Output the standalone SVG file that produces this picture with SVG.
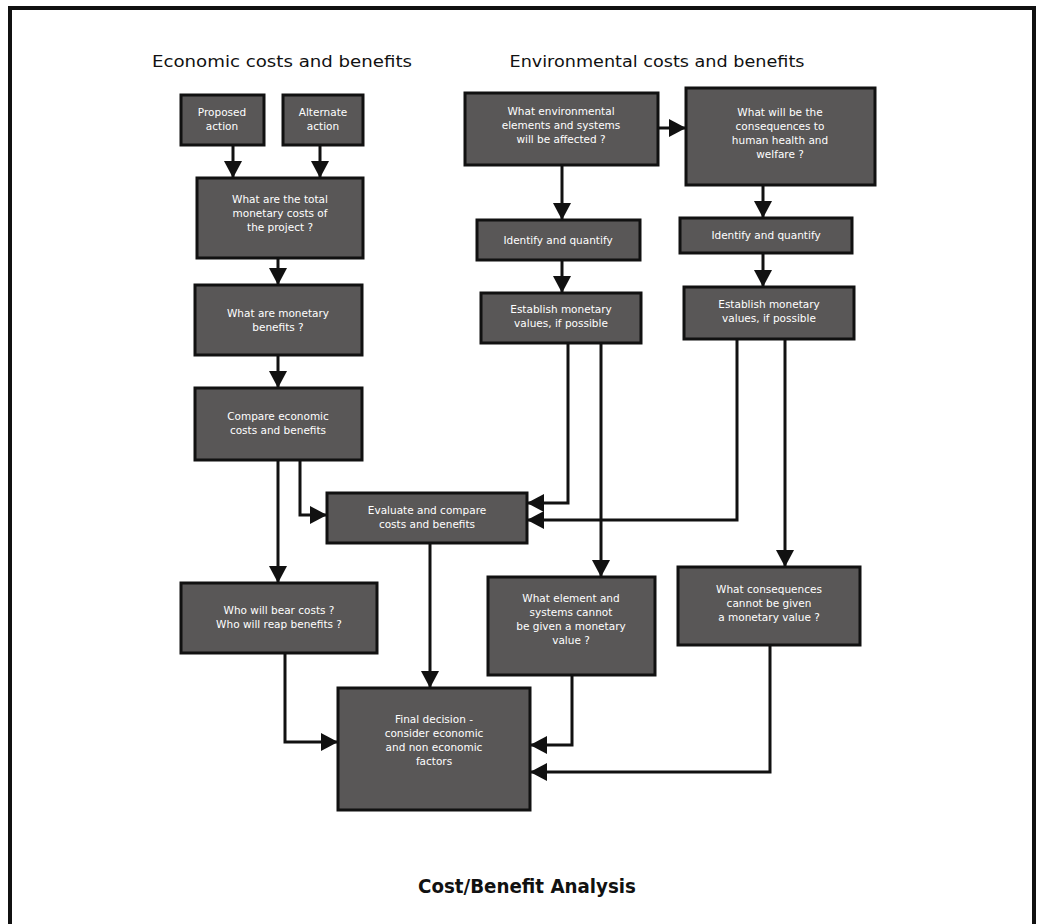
<svg xmlns="http://www.w3.org/2000/svg" width="1042" height="924" viewBox="0 0 1042 924">
<style>
.box{fill:#595757;stroke:#111;stroke-width:3}
.t{fill:#fff;font-family:"DejaVu Sans","Liberation Sans",sans-serif;font-size:10.5px;text-anchor:middle}
.h{fill:#111;font-family:"DejaVu Sans","Liberation Sans",sans-serif;font-size:16px;text-anchor:middle}
.c{fill:none;stroke:#111;stroke-width:3;marker-end:url(#ah)}
</style>
<defs>
<marker id="ah" markerUnits="userSpaceOnUse" markerWidth="20" markerHeight="20" refX="17" refY="9" orient="auto">
<path d="M0,0 L17,9 L0,18 z" fill="#111"/>
</marker>
</defs>
<rect x="0" y="0" width="1042" height="924" fill="#fff"/>
<rect x="10" y="8" width="1024" height="1000" fill="#fff" stroke="#111" stroke-width="4"/>
<text class="h" x="282" y="67" textLength="260" lengthAdjust="spacingAndGlyphs">Economic costs and benefits</text>
<text class="h" x="657" y="67" textLength="295" lengthAdjust="spacingAndGlyphs">Environmental costs and benefits</text>

<g id="connectors">
<path class="c" d="M233,145 V178"/>
<path class="c" d="M320,145 V178"/>
<path class="c" d="M278,258 V285"/>
<path class="c" d="M278,355 V388"/>
<path class="c" d="M278,460 V583"/>
<path class="c" d="M300,460 V515 H327"/>
<path class="c" d="M430,543 V688"/>
<path class="c" d="M285,653 V742 H338"/>
<path class="c" d="M658,128 H686"/>
<path class="c" d="M562,165 V220"/>
<path class="c" d="M562,260 V293"/>
<path class="c" d="M763,185 V218"/>
<path class="c" d="M763,253 V287"/>
<path class="c" d="M568,343 V503 H527"/>
<path class="c" d="M601,343 V577"/>
<path class="c" d="M737,339 V520 H527"/>
<path class="c" d="M785,339 V567"/>
<path class="c" d="M572,675 V745 H530"/>
<path class="c" d="M770,645 V772 H530"/>
</g>

<g id="proposed"><rect class="box" x="181" y="95" width="83" height="50"/>
<text class="t" x="222" y="116">Proposed</text><text class="t" x="222" y="130">action</text></g>
<g id="alternate"><rect class="box" x="283" y="95" width="80" height="50"/>
<text class="t" x="323" y="116">Alternate</text><text class="t" x="323" y="130">action</text></g>
<g id="totalcosts"><rect class="box" x="197" y="178" width="166" height="80"/>
<text class="t" x="280" y="203">What are the total</text><text class="t" x="280" y="217">monetary costs of</text><text class="t" x="280" y="231">the project ?</text></g>
<g id="benefits"><rect class="box" x="195" y="285" width="167" height="70"/>
<text class="t" x="278" y="317">What are monetary</text><text class="t" x="278" y="331">benefits ?</text></g>
<g id="compare"><rect class="box" x="195" y="388" width="167" height="72"/>
<text class="t" x="278" y="420">Compare economic</text><text class="t" x="278" y="434">costs and benefits</text></g>
<g id="evaluate"><rect class="box" x="327" y="493" width="200" height="50"/>
<text class="t" x="427" y="514">Evaluate and compare</text><text class="t" x="427" y="528">costs and benefits</text></g>
<g id="whobear"><rect class="box" x="181" y="583" width="196" height="70"/>
<text class="t" x="279" y="614">Who will bear costs ?</text><text class="t" x="279" y="628">Who will reap benefits ?</text></g>
<g id="final"><rect class="box" x="338" y="688" width="192" height="122"/>
<text class="t" x="434" y="723">Final decision -</text><text class="t" x="434" y="737">consider economic</text><text class="t" x="434" y="751">and non economic</text><text class="t" x="434" y="765">factors</text></g>

<g id="envelements"><rect class="box" x="465" y="93" width="193" height="72"/>
<text class="t" x="561" y="115">What environmental</text><text class="t" x="561" y="129">elements and systems</text><text class="t" x="561" y="143">will be affected ?</text></g>
<g id="consequences"><rect class="box" x="686" y="88" width="189" height="97"/>
<text class="t" x="780" y="116">What will be the</text><text class="t" x="780" y="130">consequences to</text><text class="t" x="780" y="144">human health and</text><text class="t" x="780" y="158">welfare ?</text></g>
<g id="identify1"><rect class="box" x="477" y="220" width="163" height="40"/>
<text class="t" x="558" y="244">Identify and quantify</text></g>
<g id="establish1"><rect class="box" x="481" y="293" width="160" height="50"/>
<text class="t" x="561" y="313">Establish monetary</text><text class="t" x="561" y="327">values, if possible</text></g>
<g id="identify2"><rect class="box" x="680" y="218" width="172" height="35"/>
<text class="t" x="766" y="239">Identify and quantify</text></g>
<g id="establish2"><rect class="box" x="684" y="287" width="170" height="52"/>
<text class="t" x="769" y="308">Establish monetary</text><text class="t" x="769" y="322">values, if possible</text></g>
<g id="elementsnomoney"><rect class="box" x="488" y="577" width="167" height="98"/>
<text class="t" x="571" y="602">What element and</text><text class="t" x="571" y="616">systems cannot</text><text class="t" x="571" y="630">be given a monetary</text><text class="t" x="571" y="644">value ?</text></g>
<g id="consequencesnomoney"><rect class="box" x="678" y="567" width="182" height="78"/>
<text class="t" x="769" y="593">What consequences</text><text class="t" x="769" y="607">cannot be given</text><text class="t" x="769" y="621">a monetary value ?</text></g>

<text x="527" y="893" font-family="'DejaVu Sans','Liberation Sans',sans-serif" font-size="19" font-weight="bold" fill="#111" text-anchor="middle" textLength="218" lengthAdjust="spacingAndGlyphs">Cost/Benefit Analysis</text>
</svg>
